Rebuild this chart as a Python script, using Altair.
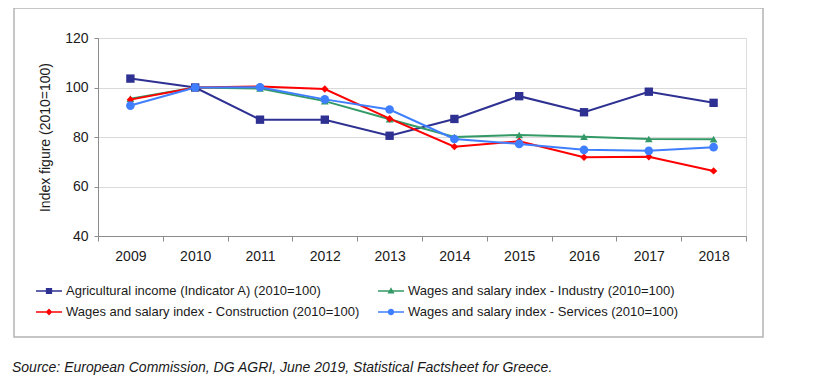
import altair as alt
import pandas as pd

years = ["2009", "2010", "2011", "2012", "2013", "2014", "2015", "2016", "2017", "2018"]
series_names = [
    "Agricultural income (Indicator A) (2010=100)",
    "Wages and salary index - Industry (2010=100)",
    "Wages and salary index - Construction (2010=100)",
    "Wages and salary index - Services (2010=100)",
]
agri = [103.6, 100.0, 87.0, 87.0, 80.5, 87.3, 96.5, 90.0, 98.3, 93.8]
industry = [95.5, 100.0, 99.6, 94.5, 87.2, 80.0, 80.8, 80.1, 79.2, 79.1]
construction = [95.1, 100.0, 100.4, 99.4, 87.4, 76.1, 78.3, 71.8, 72.0, 66.3]
services = [92.7, 100.0, 100.1, 95.2, 91.1, 79.2, 77.2, 74.8, 74.4, 75.9]
colors = ["#2E3192", "#339966", "#FF0000", "#3F7FFF"]
marker_shapes = ["square", "triangle-up", "diamond", "circle"]
marker_sizes = [70, 60, 55, 75]
# legend glyphs: a thin bar (the line) plus the marker, both filled
legend_shapes = [
    "M-1,-0.06H1V0.06H-1ZM-0.24,-0.24H0.24V0.24H-0.24Z",
    "M-1,-0.06H1V0.06H-1ZM0,-0.28L0.27,0.2H-0.27Z",
    "M-1,-0.06H1V0.06H-1ZM0,-0.27L0.25,0L0,0.27L-0.25,0Z",
    "M-1,-0.06H1V0.06H-1ZM-0.25,0A0.25,0.25,0,0,1,0.25,0A0.25,0.25,0,0,1,-0.25,0Z",
]
# legend fills column by column: this order gives rows (Agri, Industry) / (Construction, Services)
legend_order = [0, 2, 1, 3]
source_text = "Source: European Commission, DG AGRI, June 2019, Statistical Factsheet for Greece."

rows = []
for k, (name, vals) in enumerate(zip(series_names, [agri, industry, construction, services])):
    for yr, v in zip(years, vals):
        rows.append({"year": yr, "value": v, "series": name, "order": k})
df = pd.DataFrame(rows)

FONT = "Liberation Sans"

x_enc = alt.X(
    "year:O",
    scale=alt.Scale(type="band", domain=years, paddingInner=0, paddingOuter=0),
    axis=alt.Axis(
        title=None, labelAngle=0, tickBand="extent", domainColor="#8C8C8C",
        tickColor="#8C8C8C", tickSize=5, labelPadding=8, labelFontSize=14,
        labelColor="#1a1a1a", labelFont=FONT, grid=False,
    ),
)
y_enc = alt.Y(
    "value:Q",
    scale=alt.Scale(domain=[40, 120], nice=False, zero=False),
    axis=alt.Axis(
        title="Index figure (2010=100)", values=[40, 60, 80, 100, 120],
        domainColor="#8C8C8C", tickColor="#8C8C8C", tickSize=4,
        labelPadding=6, labelFontSize=14, labelColor="#1a1a1a", labelFont=FONT,
        titleFont=FONT, titleFontSize=14, titleFontWeight="normal",
        titleColor="#1a1a1a", titlePadding=12, gridColor="#D9D9D9", gridWidth=1,
    ),
)

legend_spec = alt.Legend(
    title=None, orient="none", legendX=-62, legendY=240, columns=2,
    columnPadding=18, rowPadding=1, symbolSize=676, symbolStrokeWidth=0,
    labelOffset=4, labelFontSize=13, labelFont=FONT, labelColor="#1a1a1a",
    labelLimit=400,
)

leg_domain = [series_names[i] for i in legend_order]
leg_colors = [colors[i] for i in legend_order]
leg_shapes = [legend_shapes[i] for i in legend_order]

base = alt.Chart(df)

line_layers = []
point_layers = []
for name, col, shp, sz in zip(series_names, colors, marker_shapes, marker_sizes):
    sub = base.transform_filter(alt.datum.series == name)
    line_layers.append(sub.mark_line(strokeWidth=2, color=col).encode(x=x_enc, y=y_enc))
    point_layers.append(
        sub.mark_point(filled=True, size=sz, opacity=1, shape=shp, color=col).encode(x=x_enc, y=y_enc)
    )

# legend-only layer: its y values are blanked so no points are drawn
legend_layer = base.transform_calculate(value="null").mark_point(filled=True, opacity=1).encode(
    x=x_enc, y=y_enc,
    color=alt.Color("series:N", scale=alt.Scale(domain=leg_domain, range=leg_colors), legend=legend_spec),
    shape=alt.Shape("series:N", scale=alt.Scale(domain=leg_domain, range=leg_shapes), legend=legend_spec),
)

frame = alt.Chart(alt.Data(values=[{"k": 1}])).mark_rect(
    fillOpacity=0, stroke="#B4B4B4", strokeWidth=1.5
).encode(
    x=alt.value(-84), x2=alt.value(665), y=alt.value(-30), y2=alt.value(299)
)

source = alt.Chart(alt.Data(values=[{"k": 1}])).mark_text(
    align="left", baseline="middle", font=FONT, fontSize=14, fontStyle="italic", color="#1a1a1a"
).encode(
    x=alt.value(-86), y=alt.value(330), text=alt.value(source_text)
)

chart = alt.layer(frame, *line_layers, *point_layers, legend_layer, source).properties(
    width=648, height=198,
    autosize=alt.AutoSizeParams(type="none"),
    padding={"left": 90, "top": 30, "right": 66, "bottom": 141},
).configure_view(stroke=None).configure(font=FONT)

chart.save("out.html", embed_options={"renderer": "svg", "actions": False})
